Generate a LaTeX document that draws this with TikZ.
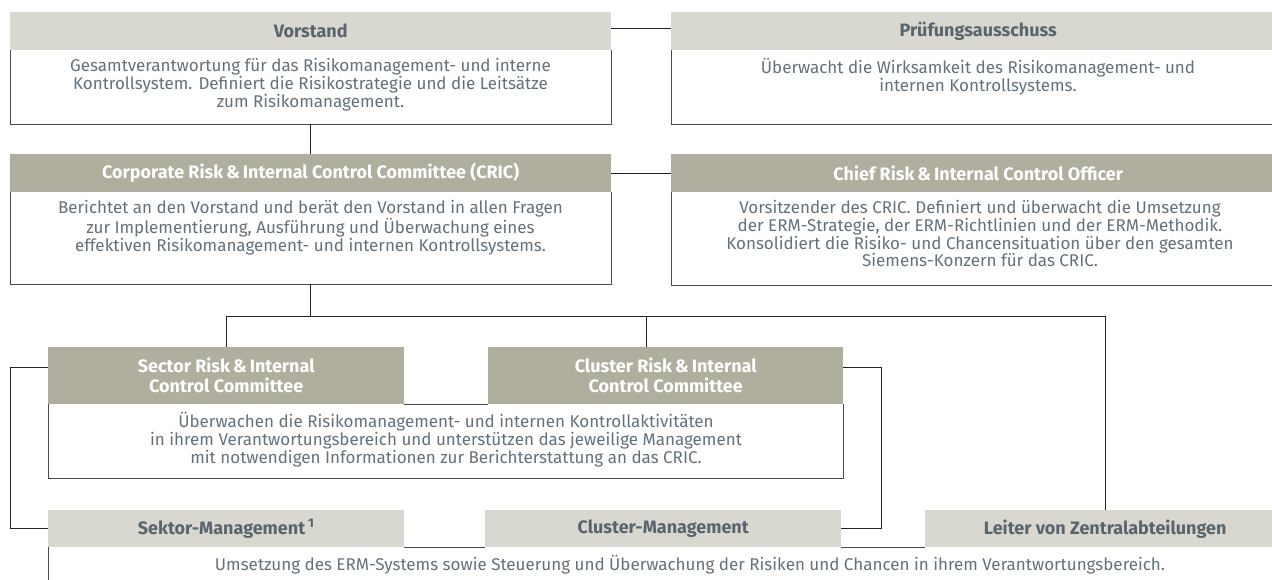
\documentclass[tikz,border=0pt]{standalone}
\usepackage{fontspec}
\setmainfont{Fira Sans}
\usetikzlibrary{calc}
\definecolor{hlight}{HTML}{D9D8D0}
\definecolor{hdark}{HTML}{B0AE9F}
\definecolor{htext}{HTML}{59656D}
\definecolor{btext}{HTML}{64717A}
\definecolor{rulec}{HTML}{4A4A4A}
\definecolor{linkc}{HTML}{222222}
\begin{document}
\begin{tikzpicture}[x=1pt,y=-1pt,
  hdr/.style={fill=hlight, text=htext, font=\fontsize{18}{20}\selectfont\bfseries,
    inner sep=0pt, minimum height=38pt, align=center, anchor=north west},
  hdrdark/.style={hdr, fill=hdark, text=white},
  bodytext/.style={text=btext, font=\fontsize{17}{17.8}\selectfont, inner sep=0pt,
    align=center, anchor=north},
  boxframe/.style={draw=none, inner sep=0pt, anchor=north west},
  frame/.style={draw=rulec, line width=0.9pt},
  link/.style={draw=linkc, line width=0.8pt}]
\useasboundingbox[fill=white] (0,0) rectangle (1272,579);

% body frames
\node[boxframe, minimum width=601pt, minimum height=74pt] (bV) at (10,50) {};
\node[boxframe, minimum width=614pt, minimum height=74pt] (bP) at (671,50) {};
\node[boxframe, minimum width=601pt, minimum height=92pt] (bC) at (10,192) {};
\node[boxframe, minimum width=614pt, minimum height=93pt] (bO) at (671,192) {};
\node[boxframe, minimum width=795pt, minimum height=74pt] (bR) at (48,404) {};
\node[boxframe, minimum width=1290pt, minimum height=60pt] (bU) at (48,547) {};

\draw[frame] (bV.north west) |- (bV.south east) -- (bV.north east);
\draw[frame] (bP.north west) |- (bP.south east);
\draw[frame] (bC.north west) |- (bC.south east) -- (bC.north east);
\draw[frame] (bO.north west) |- (bO.south east);
\draw[frame] (bR.north west) |- (bR.south east) -- (bR.north east);
\draw[frame] (bU.north west) -- (bU.south west);

% headers
\node[hdr, minimum width=601pt] (hV) at (10,12) {Vorstand};
\node[hdr, minimum width=614pt] (hP) at (671,12) {Prüfungsausschuss};
\node[hdrdark, minimum width=601pt] (hC) at (10,154) {Corporate Risk\,\&\,Internal Control Committee (CRIC)};
\node[hdrdark, minimum width=614pt] (hO) at (671,154) {Chief Risk\,\&\,Internal Control Officer};
\node[hdrdark, minimum width=356pt, minimum height=57pt] (hS) at (48,347) {Sector Risk\,\&\,Internal\\Control Committee};
\node[hdrdark, minimum width=355pt, minimum height=57pt] (hK) at (488,347) {Cluster Risk\,\&\,Internal\\Control Committee};
\node[hdr, minimum width=356pt, minimum height=37pt] (hSM) at (48,510) {Sektor-Management\,\textsuperscript{1}};
\node[hdr, minimum width=356pt, minimum height=37pt] (hKM) at (485,510) {Cluster-Management};
\node[hdr, minimum width=360pt, minimum height=37pt] (hL) at (925,510) {Leiter von Zentralabteilungen};

% top borders in gaps
\draw[frame] (hS.south east) -- (hK.south west);
\draw[frame] (hSM.south east) -- (hKM.south west);
\draw[frame] (hKM.south east) -- (hL.south west);

% body texts
\node[bodytext] (tV) at (310.5,58) {Gesamtverantwortung für das Risikomanagement- und interne\\Kontrollsystem. Definiert die Risikostrategie und die Leitsätze\\zum Risikomanagement.};
\node[bodytext] (tP) at (978,58) {Überwacht die Wirksamkeit des Risikomanagement- und\\internen Kontrollsystems.};
\node[bodytext] (tC) at (310.5,200) {Berichtet an den Vorstand und berät den Vorstand in allen Fragen\\zur Implementierung, Ausführung und Überwachung eines\\effektiven Risikomanagement- und internen Kontrollsystems.};
\node[bodytext] (tO) at (980,200) {Vorsitzender des CRIC. Definiert und überwacht die Umsetzung\\der ERM-Strategie, der ERM-Richtlinien und der ERM-Methodik.\\Konsolidiert die Risiko- und Chancensituation über den gesamten\\Siemens-Konzern für das CRIC.};
\node[bodytext] (tR) at (446,412) {Überwachen die Risikomanagement- und internen Kontrollaktivitäten\\in ihrem Verantwortungsbereich und unterstützen das jeweilige Management\\mit notwendigen Informationen zur Berichterstattung an das CRIC.};
\node[bodytext] (tU) at (690,555) {Umsetzung des ERM-Systems sowie Steuerung und Überwachung der Risiken und Chancen in ihrem Verantwortungsbereich.};

% connectors
\coordinate (j) at ($(bC.south)+(0,32)$);
\draw[link] ([yshift=3pt]hV.east) -- ([yshift=3pt]hP.west);
\draw[link] (hC.east) -- (hO.west);
\draw[link] (bV.south) -- (hC.north);
\draw[link] (bC.south) -- (j);
\draw[link] (hS.north) |- (hL.north |- j) -- (hL.north);
\draw[link] ([xshift=-19.5pt]hK.north) -- ([xshift=-19.5pt]hK.north |- j);
\draw[link] ([yshift=8.5pt]hS.west) -- ++(-38,0) |- (hSM.west);
\draw[link] ([yshift=8.5pt]hK.east) -- ++(38,0) |- (hKM.east);
\end{tikzpicture}
\end{document}
